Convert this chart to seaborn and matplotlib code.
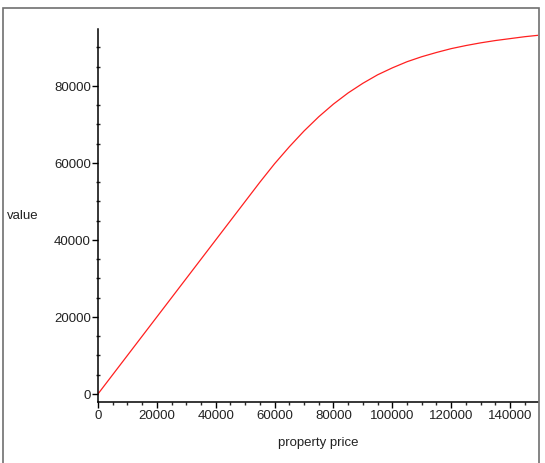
import pandas as pd
import matplotlib.pyplot as plt
import matplotlib.ticker as mticker
from matplotlib.patches import Rectangle
import seaborn as sns

# values
price = [0, 10000, 20000, 30000, 40000, 50000, 55000, 60000, 65000, 70000,
         75000, 80000, 85000, 90000, 95000, 100000, 105000, 110000, 115000,
         120000, 125000, 130000, 135000, 140000, 145000, 150000]
value = [0, 10000, 20000, 30000, 40000, 50000, 55000, 59800, 64200, 68300,
         72000, 75300, 78200, 80700, 82900, 84700, 86300, 87600, 88700,
         89700, 90500, 91200, 91800, 92300, 92800, 93200]

x_ticks = [0, 20000, 40000, 60000, 80000, 100000, 120000, 140000]
y_ticks = [0, 20000, 40000, 60000, 80000]

df = pd.DataFrame({'property price': price, 'value': value})

sns.set_style('white')
plt.rcParams['font.family'] = ['Liberation Sans', 'DejaVu Sans']

fig = plt.figure(figsize=(5.45, 4.64), dpi=100)
ax = fig.add_axes([98 / 545, 1 - 403 / 464, (538 - 98) / 545, (403 - 30) / 464])

sns.lineplot(data=df, x='property price', y='value', color='#ff2020', linewidth=0.9, ax=ax)

ax.set_xlim(0, 149500)
ax.set_ylim(-2100, 94800)

# axis lines like the original (no box)
ax.spines['top'].set_visible(False)
ax.spines['right'].set_visible(False)
for s in ['left', 'bottom']:
    ax.spines[s].set_linewidth(1.1)
    ax.spines[s].set_color('black')

ax.set_xticks(x_ticks)
ax.set_yticks(y_ticks)
ax.xaxis.set_minor_locator(mticker.MultipleLocator(5000))
ax.yaxis.set_minor_locator(mticker.MultipleLocator(5000))
ax.tick_params(axis='both', which='both', bottom=True, left=True)
ax.tick_params(axis='both', which='major', direction='out', length=4, width=1,
               labelsize=9.5, colors='black', labelcolor='#222222', pad=1)
ax.tick_params(axis='x', which='minor', direction='out', length=2.5, width=1)
ax.tick_params(axis='y', which='minor', direction='inout', length=3.5, width=1)
ax.xaxis.set_major_formatter(mticker.FormatStrFormatter('%d'))
ax.yaxis.set_major_formatter(mticker.FormatStrFormatter('%d'))

ax.set_xlabel('')
ax.set_ylabel('')
fig.text(318 / 545, 1 - 443 / 464, 'property price', ha='center', va='center', fontsize=9.5, color='#222222')
fig.text(7 / 545, 1 - 216 / 464, 'value', ha='left', va='center', fontsize=9.5, color='#222222')

# outer frame
fig.patches.append(Rectangle((3 / 545, -0.01), (539 - 3) / 545, 1 - 9 / 464 + 0.01,
                             transform=fig.transFigure, fill=False,
                             edgecolor='#707070', linewidth=1.2))

plt.savefig('out.png', dpi=100)
